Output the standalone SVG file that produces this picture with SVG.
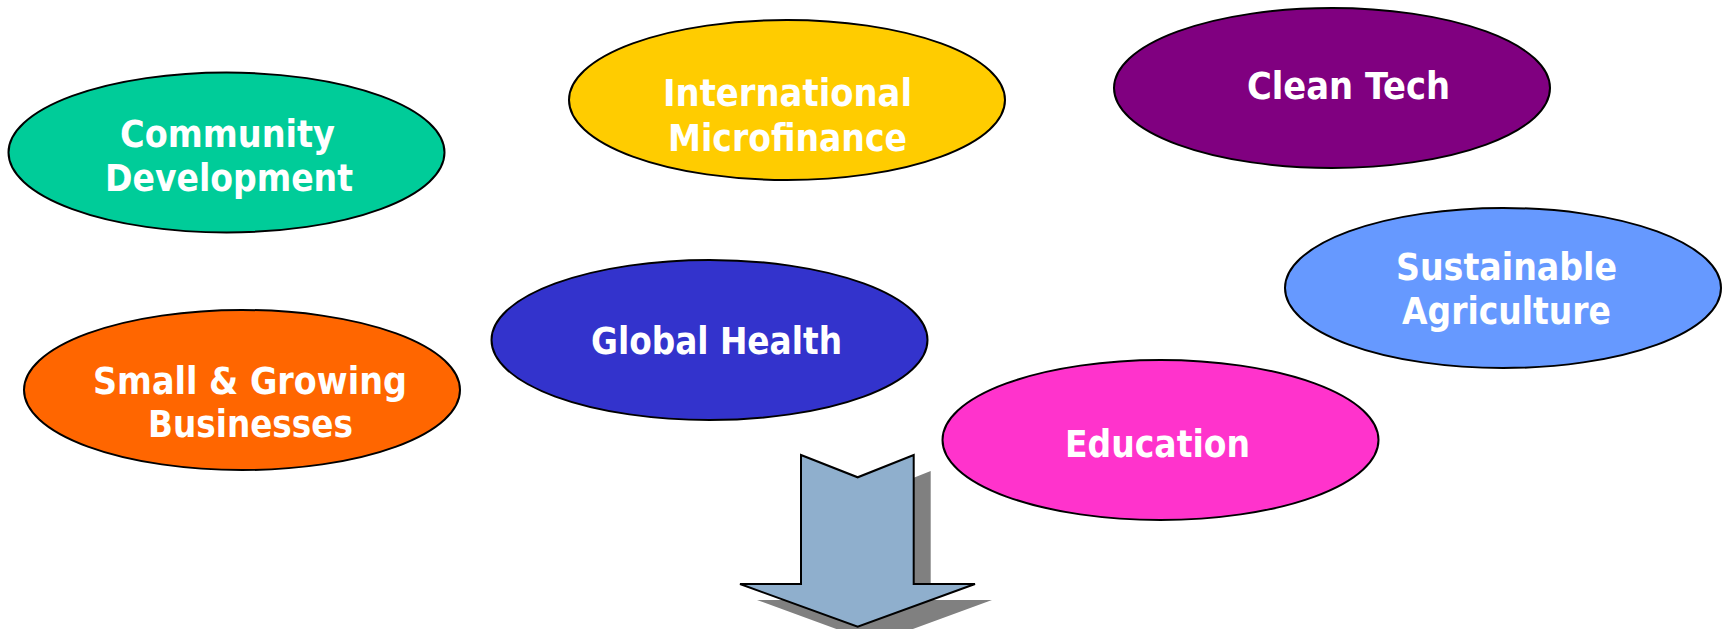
<svg xmlns="http://www.w3.org/2000/svg" width="1729" height="629" viewBox="0 0 1729 629">
<style>
.node ellipse{stroke:#000;stroke-width:2}
.lbl{font-family:"DejaVu Sans","Liberation Sans",sans-serif;font-weight:bold;font-size:37px;fill:#fff;text-anchor:middle;font-stretch:condensed}
</style>
<rect width="1729" height="629" fill="#fff"/>
<g id="community-development" class="node">
<ellipse cx="226.5" cy="152.5" rx="218" ry="80" fill="#00CC99"/>
<text class="lbl" x="227.5" y="146.5" textLength="215" lengthAdjust="spacingAndGlyphs">Community</text>
<text class="lbl" x="229" y="191" textLength="248" lengthAdjust="spacingAndGlyphs">Development</text>
</g>
<g id="international-microfinance" class="node">
<ellipse cx="787" cy="100" rx="218" ry="80" fill="#FFCC00"/>
<text class="lbl" x="787.5" y="106" textLength="249" lengthAdjust="spacingAndGlyphs">International</text>
<text class="lbl" x="787.5" y="150.5" textLength="239" lengthAdjust="spacingAndGlyphs">Microfinance</text>
</g>
<g id="clean-tech" class="node">
<ellipse cx="1332" cy="88" rx="218" ry="80" fill="#800080"/>
<text class="lbl" x="1348.5" y="98.5" textLength="203" lengthAdjust="spacingAndGlyphs">Clean Tech</text>
</g>
<g id="sustainable-agriculture" class="node">
<ellipse cx="1503" cy="288" rx="218" ry="80" fill="#6699FF"/>
<text class="lbl" x="1506.5" y="280" textLength="221" lengthAdjust="spacingAndGlyphs">Sustainable</text>
<text class="lbl" x="1506.5" y="324" textLength="209" lengthAdjust="spacingAndGlyphs">Agriculture</text>
</g>
<g id="global-health" class="node">
<ellipse cx="709.5" cy="340" rx="218" ry="80" fill="#3333CC"/>
<text class="lbl" x="716.5" y="354" textLength="251" lengthAdjust="spacingAndGlyphs">Global Health</text>
</g>
<g id="small-growing-businesses" class="node">
<ellipse cx="242" cy="390" rx="218" ry="80" fill="#FF6600"/>
<text class="lbl" x="250" y="393.5" textLength="314" lengthAdjust="spacingAndGlyphs">Small &amp; Growing</text>
<text class="lbl" x="250.5" y="437" textLength="205" lengthAdjust="spacingAndGlyphs">Businesses</text>
</g>
<g id="education" class="node">
<ellipse cx="1160.5" cy="440" rx="218" ry="80" fill="#FF33CC"/>
<text class="lbl" x="1157.5" y="456.5" textLength="185" lengthAdjust="spacingAndGlyphs">Education</text>
</g>
<g id="connectors">
<polygon points="818,471 874.7,493.3 930.7,471 930.7,600 992,600 874.7,643 757,600 818,600" fill="#808080"/>
<polygon points="801,455 857.7,477.3 913.7,455 913.7,584 975,584 857.7,626.7 740,584 801,584" fill="#8FAFCD" stroke="#000" stroke-width="2" stroke-linejoin="miter"/>
</g>
</svg>
